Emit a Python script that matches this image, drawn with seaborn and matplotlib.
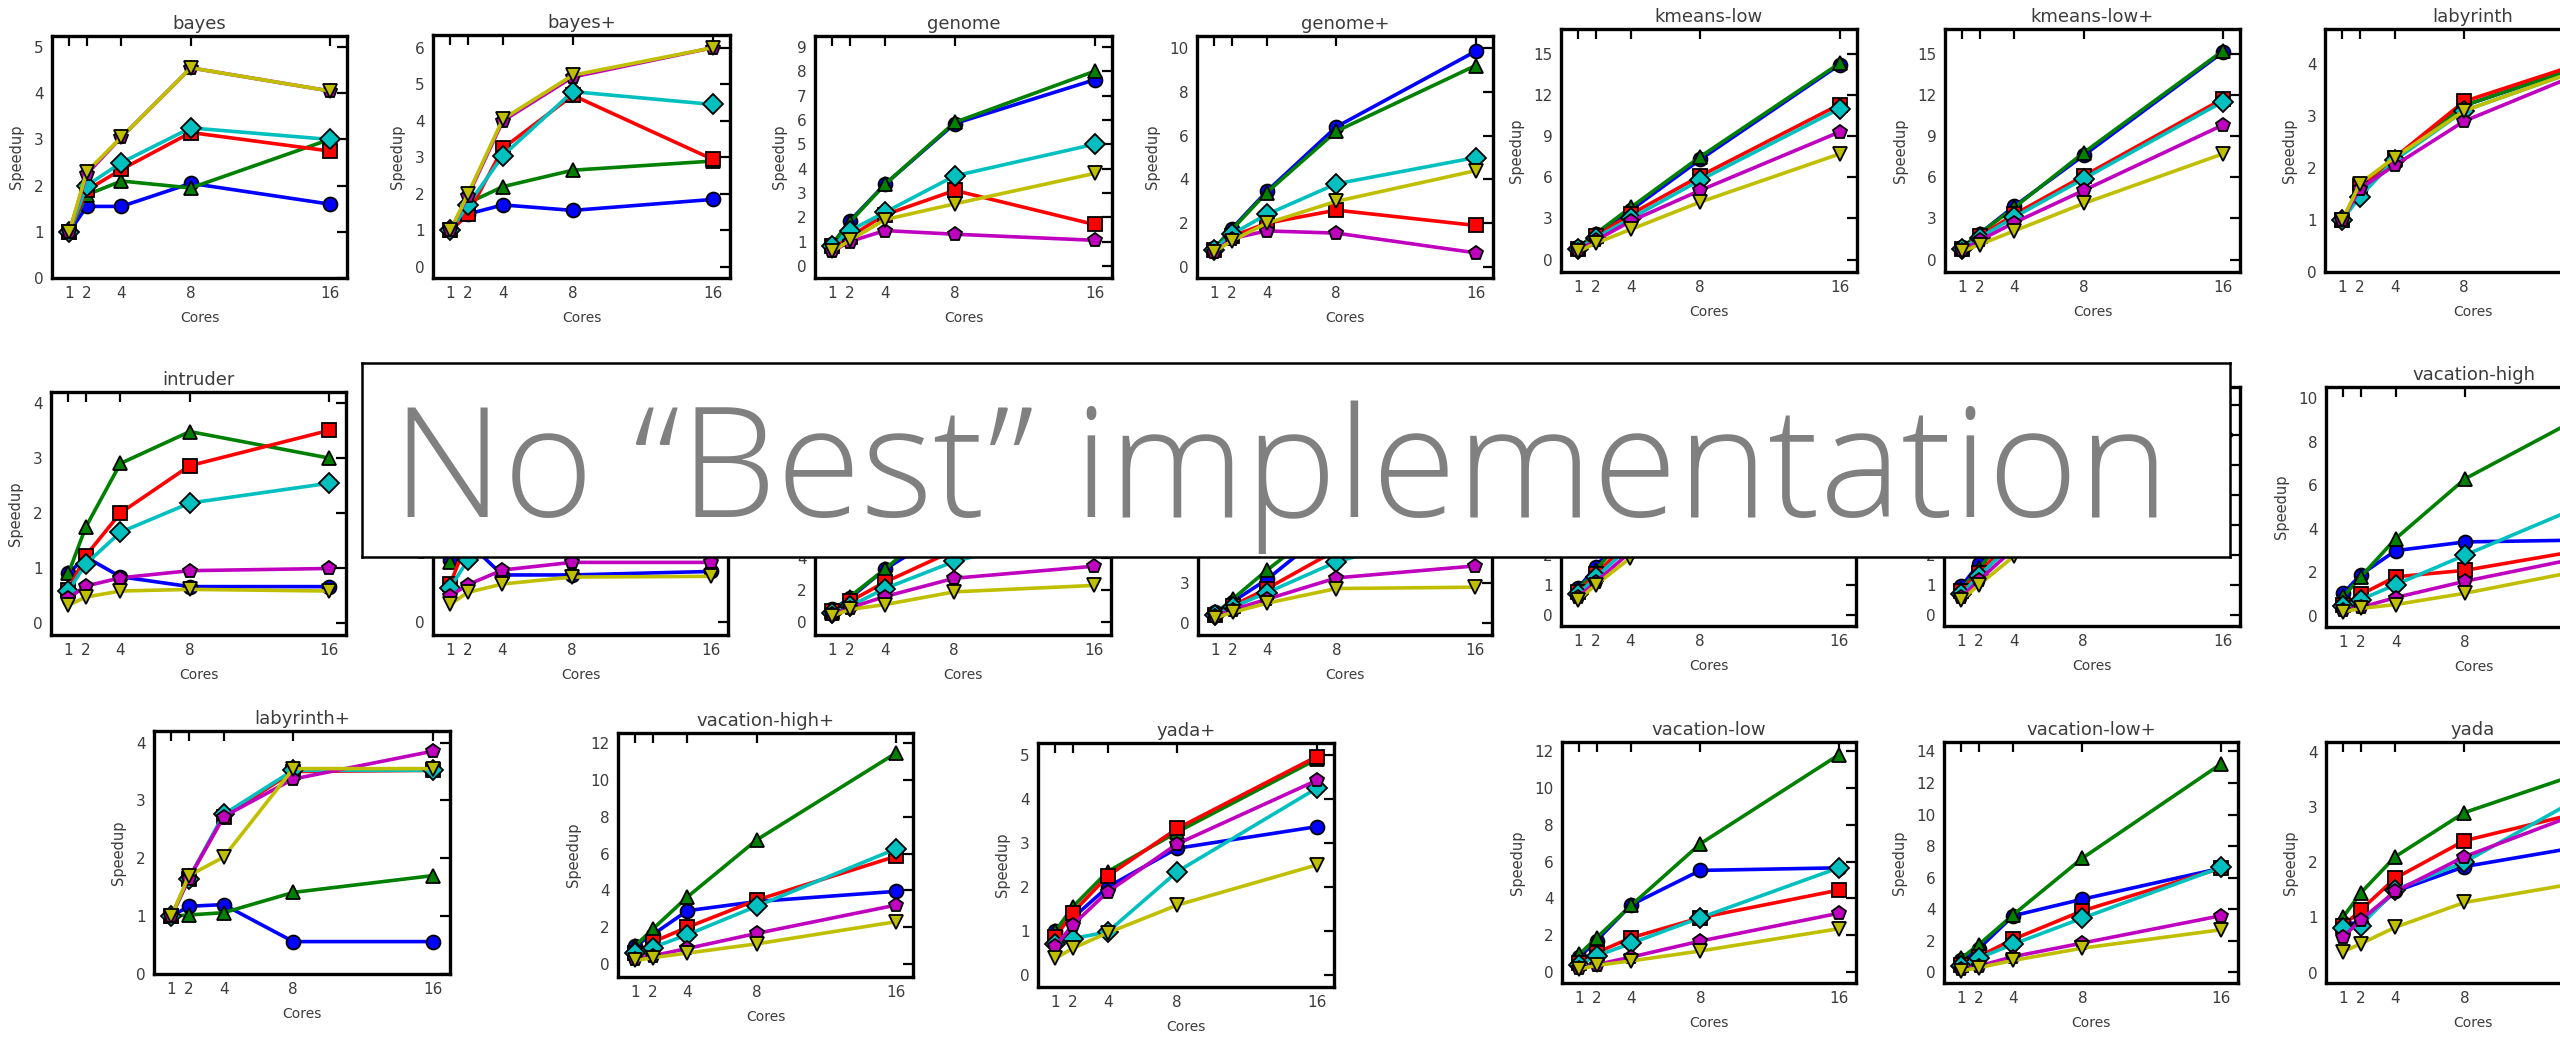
import matplotlib
matplotlib.use('Agg')
import matplotlib.pyplot as plt
import seaborn as sns
import pandas as pd

sns.set_style('white')
plt.rcParams['font.family'] = ['DejaVu Sans']

# ---------------- data ----------------
cores = [1, 2, 4, 8, 16]
impls = ['impl-1', 'impl-2', 'impl-3', 'impl-4', 'impl-5', 'impl-6']

# one row per implementation (same order as impls)
bayes = [[1.0, 1.55, 1.55, 2.05, 1.6],
         [1.0, 1.8, 2.1, 1.95, 3.0],
         [1.0, 1.9, 2.35, 3.15, 2.75],
         [1.0, 2.0, 2.5, 3.25, 3.0],
         [1.0, 2.25, 3.05, 4.55, 4.05],
         [1.0, 2.3, 3.05, 4.55, 4.05]]
bayes_plus = [[1.0, 1.45, 1.7, 1.55, 1.85],
              [1.0, 1.75, 2.2, 2.65, 2.9],
              [1.0, 1.45, 3.25, 4.7, 2.95],
              [1.0, 1.7, 3.05, 4.8, 4.45],
              [1.0, 1.95, 4.0, 5.2, 6.0],
              [1.0, 2.0, 4.05, 5.25, 6.0]]
genome = [[0.9, 1.85, 3.35, 5.85, 7.65],
          [0.9, 1.8, 3.35, 5.9, 8.0],
          [0.8, 1.2, 2.1, 3.1, 1.7],
          [0.8, 1.45, 2.2, 3.7, 5.0],
          [0.6, 1.0, 1.45, 1.3, 1.05],
          [0.6, 1.05, 1.9, 2.55, 3.8]]
genome_plus = [[0.85, 1.75, 3.45, 6.4, 9.85],
               [0.85, 1.7, 3.4, 6.2, 9.2],
               [0.8, 1.4, 2.0, 2.6, 1.9],
               [0.8, 1.5, 2.4, 3.8, 5.0],
               [0.7, 1.3, 1.65, 1.55, 0.65],
               [0.7, 1.2, 2.0, 3.0, 4.4]]
kmeans_low = [[0.9, 1.85, 3.6, 7.3, 14.2],
              [0.9, 1.9, 3.8, 7.5, 14.3],
              [0.8, 1.7, 3.3, 6.1, 11.3],
              [0.8, 1.6, 3.0, 5.8, 11.0],
              [0.7, 1.4, 2.8, 5.05, 9.3],
              [0.6, 1.2, 2.2, 4.2, 7.7]]
kmeans_low_plus = [[0.9, 1.9, 3.9, 7.6, 15.1],
                   [0.9, 1.9, 3.8, 7.8, 15.2],
                   [0.8, 1.7, 3.3, 6.1, 11.7],
                   [0.8, 1.6, 3.1, 5.9, 11.5],
                   [0.7, 1.4, 2.7, 5.05, 9.8],
                   [0.6, 1.1, 2.1, 4.1, 7.7]]
labyrinth = [[1.0, 1.6, 2.15, 3.2, 4.1],
             [1.0, 1.6, 2.15, 3.2, 4.1],
             [1.0, 1.65, 2.2, 3.28, 4.15],
             [1.0, 1.45, 2.15, 3.1, 4.05],
             [1.0, 1.6, 2.05, 2.9, 4.0],
             [1.0, 1.7, 2.2, 3.1, 4.05]]
intruder = [[0.9, 1.2, 0.84, 0.66, 0.66],
            [0.9, 1.74, 2.9, 3.48, 3.0],
            [0.6, 1.22, 2.0, 2.86, 3.5],
            [0.58, 1.07, 1.65, 2.18, 2.54],
            [0.45, 0.67, 0.82, 0.95, 0.99],
            [0.32, 0.47, 0.58, 0.61, 0.58]]
intruder_plus = [[0.9, 1.15, 0.68, 0.68, 0.73],
                 [0.86, 1.6, 2.5, 3.0, 3.2],
                 [0.55, 1.2, 1.8, 2.5, 3.1],
                 [0.5, 0.89, 1.5, 2.2, 2.8],
                 [0.38, 0.54, 0.75, 0.86, 0.86],
                 [0.26, 0.43, 0.55, 0.65, 0.66]]
ssca2 = [[0.8, 1.5, 3.3, 6.0, 10.0],
         [0.55, 1.6, 3.3, 7.0, 13.0],
         [0.7, 1.3, 2.5, 4.5, 7.0],
         [0.6, 1.0, 2.1, 3.8, 6.0],
         [0.5, 0.9, 1.6, 2.75, 3.5],
         [0.4, 0.8, 1.1, 1.9, 2.3]]
ssca2_plus = [[0.8, 1.6, 3.3, 7.5, 13.0],
              [0.7, 1.8, 4.0, 8.0, 14.0],
              [0.6, 1.3, 2.6, 5.5, 9.5],
              [0.6, 1.2, 2.3, 4.6, 7.5],
              [0.5, 1.0, 1.8, 3.4, 4.3],
              [0.4, 0.8, 1.5, 2.6, 2.7]]
kmeans_high = [[0.9, 1.6, 3.0, 5.2, 7.0],
               [0.85, 1.5, 2.8, 5.0, 6.8],
               [0.75, 1.35, 2.5, 4.5, 6.2],
               [0.7, 1.25, 2.3, 4.2, 5.8],
               [0.6, 1.1, 2.1, 3.8, 5.3],
               [0.5, 1.0, 1.9, 3.5, 4.8]]
kmeans_high_plus = [[0.95, 1.7, 3.1, 5.4, 7.2],
                    [0.85, 1.55, 2.9, 5.1, 7.0],
                    [0.8, 1.4, 2.6, 4.6, 6.4],
                    [0.7, 1.3, 2.4, 4.3, 6.0],
                    [0.6, 1.15, 2.2, 3.9, 5.4],
                    [0.5, 1.0, 1.95, 3.6, 4.9]]
vacation_high = [[1.05, 1.9, 3.0, 3.4, 3.5],
                 [0.9, 1.8, 3.55, 6.3, 9.7],
                 [0.5, 0.99, 1.8, 2.1, 3.2],
                 [0.45, 0.76, 1.44, 2.8, 5.5],
                 [0.3, 0.4, 0.85, 1.6, 2.9],
                 [0.2, 0.35, 0.53, 1.05, 2.3]]
labyrinth_plus = [[1.0, 1.17, 1.2, 0.56, 0.56],
                  [1.0, 1.02, 1.06, 1.41, 1.7],
                  [1.0, 1.65, 2.72, 3.5, 3.52],
                  [1.0, 1.65, 2.76, 3.52, 3.52],
                  [1.0, 1.65, 2.72, 3.37, 3.85],
                  [1.0, 1.7, 2.02, 3.55, 3.55]]
vacation_high_plus = [[1.0, 1.6, 2.9, 3.4, 3.95],
                      [1.0, 1.9, 3.65, 6.75, 11.45],
                      [0.6, 1.2, 2.0, 3.48, 5.85],
                      [0.6, 0.9, 1.6, 3.15, 6.25],
                      [0.3, 0.45, 0.85, 1.67, 3.2],
                      [0.2, 0.35, 0.6, 1.1, 2.3]]
yada_plus = [[1.0, 1.3, 2.0, 2.88, 3.37],
             [1.0, 1.55, 2.35, 3.25, 4.9],
             [0.86, 1.42, 2.25, 3.33, 4.96],
             [0.7, 0.83, 0.98, 2.35, 4.24],
             [0.66, 1.14, 1.89, 2.98, 4.42],
             [0.38, 0.61, 0.96, 1.59, 2.5]]
vacation_low = [[0.8, 1.7, 3.65, 5.52, 5.66],
                [0.96, 1.86, 3.62, 6.97, 11.8],
                [0.5, 1.05, 1.86, 2.95, 4.45],
                [0.4, 0.87, 1.56, 2.95, 5.66],
                [0.2, 0.4, 0.81, 1.68, 3.19],
                [0.15, 0.36, 0.6, 1.14, 2.35]]
vacation_low_plus = [[0.8, 1.5, 3.59, 4.64, 6.6],
                     [0.9, 1.75, 3.65, 7.24, 13.2],
                     [0.5, 1.0, 2.1, 3.9, 6.6],
                     [0.4, 0.9, 1.79, 3.44, 6.65],
                     [0.2, 0.4, 1.0, 1.86, 3.59],
                     [0.1, 0.3, 0.76, 1.54, 2.7]]
yada = [[0.9, 0.89, 1.47, 1.92, 2.35],
        [1.01, 1.44, 2.1, 2.9, 3.75],
        [0.85, 1.13, 1.71, 2.39, 3.0],
        [0.8, 0.85, 1.5, 2.0, 3.4],
        [0.65, 0.95, 1.47, 2.1, 3.05],
        [0.38, 0.52, 0.82, 1.27, 1.7]]

# titles of the panels hidden behind the message box are left empty
titles = ['bayes', 'bayes+', 'genome', 'genome+', 'kmeans-low', 'kmeans-low+', 'labyrinth',
          'intruder', '', '', '', '', '', 'vacation-high',
          'labyrinth+', 'vacation-high+', 'yada+', 'vacation-low', 'vacation-low+', 'yada']
panels = [bayes, bayes_plus, genome, genome_plus, kmeans_low, kmeans_low_plus, labyrinth,
          intruder, intruder_plus, ssca2, ssca2_plus, kmeans_high, kmeans_high_plus, vacation_high,
          labyrinth_plus, vacation_high_plus, yada_plus, vacation_low, vacation_low_plus, yada]

# ---------------- layout / style ----------------
W, H = 2560, 1038
# axes boxes in pixels: left, top, right, bottom
boxes = [(52, 36, 347, 278), (433, 35, 730, 278), (815, 36, 1112, 278), (1197, 36, 1493, 278),
         (1561, 29, 1857, 272), (1945, 29, 2240, 272), (2325, 29, 2621, 272),
         (51, 392, 346, 635), (433, 392, 728, 635), (815, 392, 1111, 635), (1198, 392, 1492, 635),
         (1561, 387, 1856, 626), (1944, 387, 2240, 626), (2326, 387, 2622, 627),
         (154, 731, 450, 974), (618, 733, 913, 977), (1038, 743, 1334, 987),
         (1562, 742, 1856, 983), (1944, 742, 2238, 983), (2326, 742, 2620, 983)]
ylims = [(0, 5.24), (-0.3, 6.35), (-0.5, 9.45), (-0.5, 10.55), (-0.9, 16.8), (-0.9, 16.8), (0, 4.67),
         (-0.22, 4.2), (-0.18, 3.3), (-0.8, 14.4), (-0.9, 17.4), (-0.37, 7.6), (-0.37, 7.6), (-0.5, 10.5),
         (0, 4.2), (-0.7, 12.55), (-0.27, 5.27), (-0.6, 12.5), (-0.67, 14.6), (-0.19, 4.18)]
ysteps = [1, 1, 1, 2, 3, 3, 1,
          1, 1, 2, 3, 1, 1, 2,
          1, 2, 1, 2, 2, 1]

palette = dict(zip(impls, [(0, 0, 1), (0, 0.5, 0), (1, 0, 0), (0, 0.75, 0.75), (0.75, 0, 0.75), (0.75, 0.75, 0)]))
markers = dict(zip(impls, ['o', '^', 's', 'D', 'p', 'v']))
txt = '#3c3c3c'

fig = plt.figure(figsize=(W / 100, H / 100), dpi=100)
fig.patch.set_facecolor('white')

for title, values, (l, t, r, b), ylim, step in zip(titles, panels, boxes, ylims, ysteps):
    ax = fig.add_axes([l / W, 1 - b / H, (r - l) / W, (b - t) / H])
    df = pd.DataFrame({
        'Cores': cores * len(impls),
        'Speedup': [v for row in values for v in row],
        'impl': [name for name in impls for _ in cores],
    })
    sns.lineplot(data=df, x='Cores', y='Speedup', hue='impl', style='impl',
                 hue_order=impls, style_order=impls, palette=palette, markers=markers,
                 dashes=False, markersize=10, linewidth=2.6, markeredgecolor='black',
                 markeredgewidth=1.3, legend=False, errorbar=None, ax=ax)
    ax.set_xlim(0, 17)
    ax.set_xticks(cores)
    ax.set_ylim(*ylim)
    top = int(ylim[1])
    ax.set_yticks(list(range(0, top + 1, step)))
    ax.tick_params(direction='in', length=7, width=1.6, top=True, right=True,
                   labelsize=11, colors='black', labelcolor=txt, pad=6)
    for sp in ax.spines.values():
        sp.set_linewidth(2.4)
        sp.set_color('black')
    if title:
        ax.set_title(title, fontsize=13, color=txt, pad=5)
    ax.set_xlabel('Cores', fontsize=10, color=txt, labelpad=7)
    ax.set_ylabel('Speedup', fontsize=10.5, color=txt, labelpad=7)

# overlay box with the slide's message
ax_box = fig.add_axes([362 / W, 1 - 557 / H, (2230 - 362) / W, (557 - 363) / H])
ax_box.set_zorder(10)
ax_box.set_facecolor('white')
ax_box.set_xticks([])
ax_box.set_yticks([])
for sp in ax_box.spines.values():
    sp.set_linewidth(1.8)
    sp.set_color('black')
ax_box.text(392 / W, 1 - 517 / H, 'No \u201cBest\u201d implementation', transform=fig.transFigure,
            fontsize=111, color='#808080', family=['Open Sans', 'DejaVu Sans'], fontweight='light',
            ha='left', va='baseline')

fig.savefig('out.png', dpi=100)
